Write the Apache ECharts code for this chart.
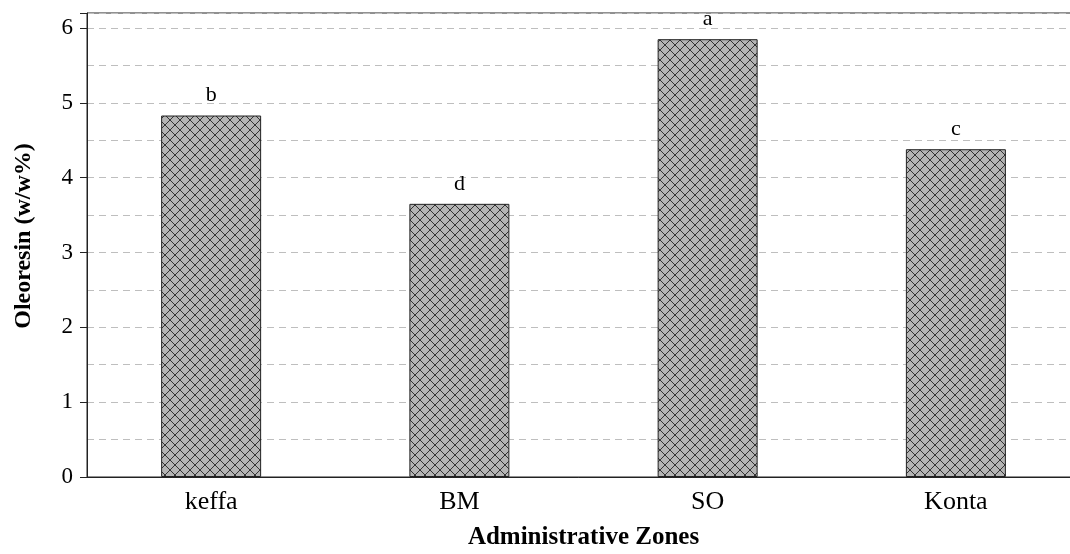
<!DOCTYPE html>
<html>
<head>
<meta charset="utf-8">
<script src="https://cdn.jsdelivr.net/npm/echarts@6/dist/echarts.min.js"></script>
<style>
html,body{margin:0;padding:0;background:#fff;overflow:hidden;}
#chart{width:1070px;height:554px;}
</style>
</head>
<body>
<div id="chart"></div>
<script>
const categories = ['keffa', 'BM', 'SO', 'Konta'];
const values = [4.83, 3.65, 5.85, 4.38];
const letters = ['b', 'd', 'a', 'c'];
const yTickLabels = ['0', '1', '2', '3', '4', '5', '6'];

function makePattern() {
  const s = 10;
  const c = document.createElement('canvas');
  c.width = s; c.height = s;
  const g = c.getContext('2d');
  g.fillStyle = '#b4b4b4';
  g.fillRect(0, 0, s, s);
  g.strokeStyle = '#333333';
  g.lineWidth = 1;
  g.beginPath();
  g.moveTo(0, 0); g.lineTo(s, s);
  g.moveTo(s, 0); g.lineTo(0, s);
  g.stroke();
  return c;
}

const chart = echarts.init(document.getElementById('chart'), null, {renderer: 'canvas'});
const font = '"Liberation Serif", "DejaVu Serif", serif';
chart.setOption({
  animation: false,
  backgroundColor: '#fff',
  grid: {left: 87, width: 993, top: 13, bottom: 77, show: true, borderColor: '#222', borderWidth: 1, outerBoundsMode: 'none', containLabel: false},
  xAxis: {
    type: 'category',
    data: categories,
    name: 'Administrative Zones',
    nameLocation: 'middle',
    nameGap: 48,
    nameTextStyle: {fontFamily: font, fontSize: 25, fontWeight: 'bold', color: '#000'},
    axisLine: {lineStyle: {color: '#222', width: 1}},
    axisTick: {alignWithLabel: true, length: 7, lineStyle: {color: '#222'}},
    axisLabel: {fontFamily: font, fontSize: 26, color: '#000', margin: 12}
  },
  yAxis: {
    type: 'value',
    min: 0, max: 6.2, interval: 1,
    name: 'Oleoresin (w/w%)',
    nameLocation: 'middle',
    nameGap: 51,
    nameTextStyle: {fontFamily: font, fontSize: 24, fontWeight: 'bold', color: '#000', padding: [0, 0, 0, 18]},
    axisLine: {show: true, lineStyle: {color: '#222', width: 1}},
    axisTick: {show: true, length: 7, lineStyle: {color: '#222'}},
    axisLabel: {
      fontFamily: font, fontSize: 23, color: '#000', margin: 14,
      formatter: v => yTickLabels.indexOf(String(v)) >= 0 ? String(v) : ''
    },
    splitLine: {show: true, lineStyle: {color: '#bebebe', type: [7, 5], width: 1}},
    minorTick: {show: false, splitNumber: 2},
    minorSplitLine: {show: true, lineStyle: {color: '#bebebe', type: [7, 5], width: 1}}
  },
  series: [{
    type: 'bar',
    data: values,
    barWidth: 100,
    itemStyle: {color: {image: makePattern(), repeat: 'repeat'}, borderColor: '#222', borderWidth: 1},
    label: {
      show: true, position: 'top', distance: 9,
      fontFamily: font, fontSize: 22, color: '#000',
      formatter: p => letters[p.dataIndex]
    }
  }]
});
</script>
</body>
</html>
